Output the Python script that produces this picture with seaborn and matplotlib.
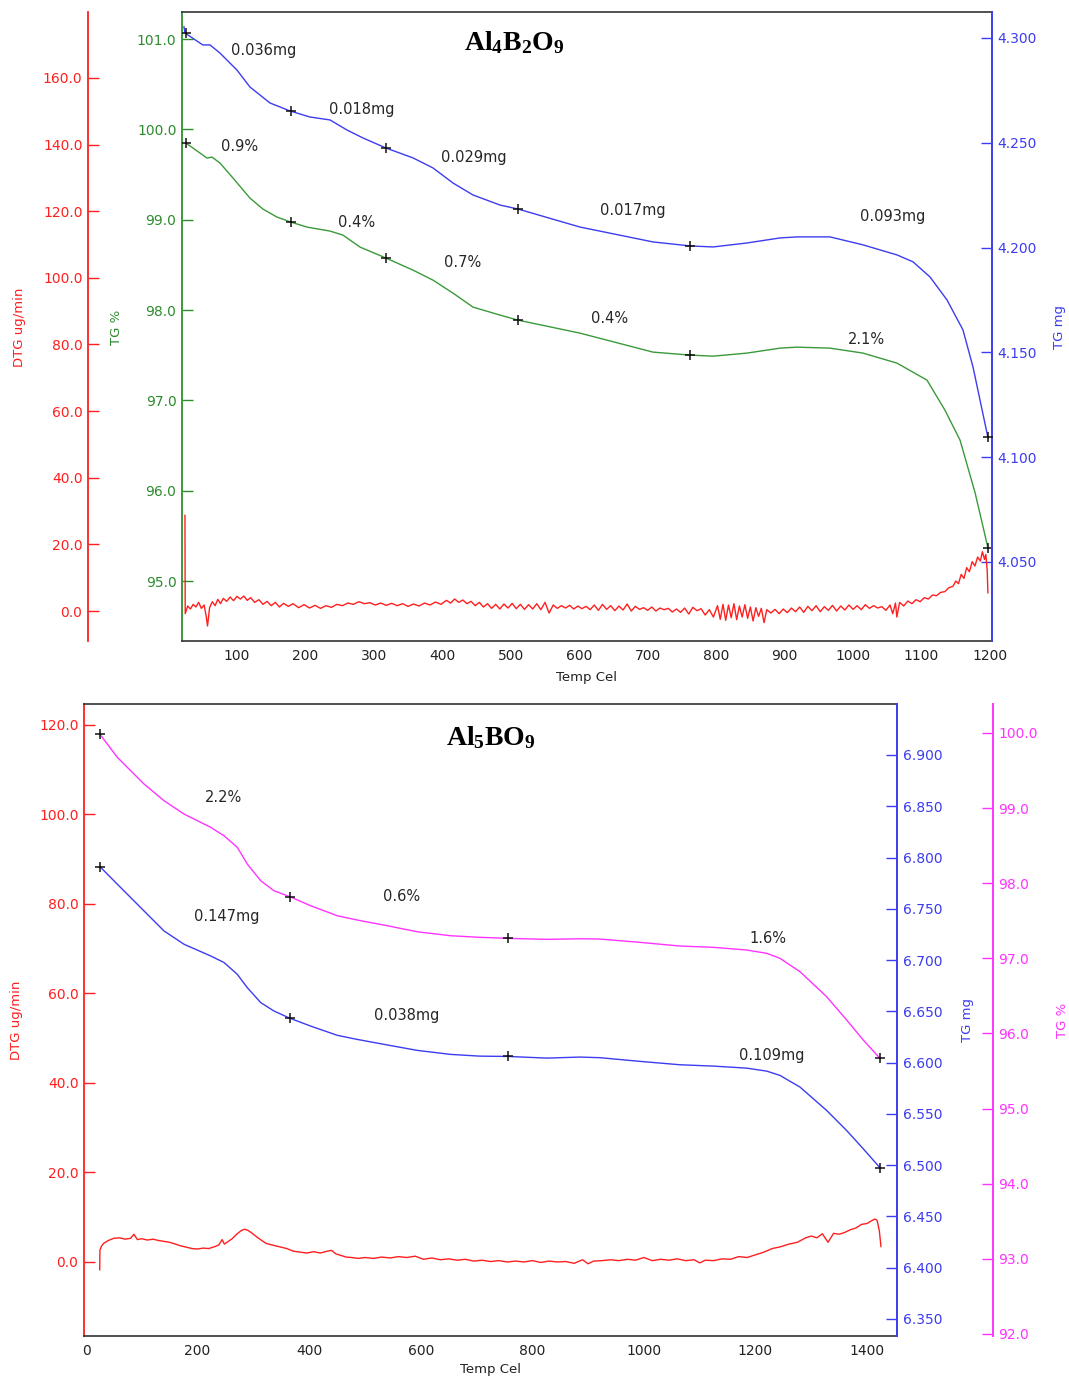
import numpy as np
import matplotlib
matplotlib.use("Agg")
import matplotlib.pyplot as plt
import seaborn as sns
from matplotlib.ticker import FormatStrFormatter, FixedLocator

sns.set_theme(style="white")
plt.rcParams["font.family"] = ["DejaVu Sans"]
plt.rcParams["mathtext.fontset"] = "custom"
plt.rcParams["mathtext.rm"] = "Liberation Serif"
plt.rcParams["mathtext.bf"] = "Liberation Serif:bold"
plt.rcParams["mathtext.it"] = "Liberation Serif:italic"

# ---------------- DATA: Al4B2O9 (top) ----------------
top_pct_temp = [25.5, 45.9, 56.2, 63.5, 75.2, 94.2, 119, 138, 158.4, 178.9, 202.3, 235.9, 254.9,
                279.7, 317.7, 357.1, 386.3, 415.6, 444.8, 484.2, 510.5, 601.1, 707.7, 761.8, 795.4,
                845.1, 893.3, 918.1, 966.3, 1014.5, 1064.2, 1108.0, 1134.3, 1156.3, 1178.2, 1197.2]
top_pct = [99.848, 99.738, 99.682, 99.693, 99.627, 99.461, 99.239, 99.117, 99.029, 98.973, 98.918,
           98.874, 98.829, 98.697, 98.575, 98.442, 98.331, 98.187, 98.032, 97.944, 97.888, 97.744,
           97.534, 97.501, 97.489, 97.523, 97.578, 97.589, 97.578, 97.523, 97.412, 97.224, 96.891,
           96.56, 95.98, 95.363]

top_mg_temp = [22.5, 24.0, 50, 60.6, 75.2, 100, 119, 148.2, 177.4, 206.6, 235.9, 260.7, 284.1, 317.7,
               357.1, 386.3, 415.6, 444.8, 484.2, 510.5, 601.1, 707.7, 761.8, 795.4, 845.1, 893.3,
               918.1, 966.3, 1014.5, 1064.2, 1087.6, 1112.4, 1137.3, 1160.6, 1175.2, 1197.2]
top_mg = [4.3055, 4.3024, 4.2967, 4.2967, 4.2928, 4.2847, 4.2766, 4.2690, 4.2652, 4.2623, 4.2609,
          4.2561, 4.2523, 4.2475, 4.2428, 4.2380, 4.2308, 4.2251, 4.2203, 4.2184, 4.2098, 4.2027,
          4.2008, 4.2003, 4.2022, 4.2046, 4.2051, 4.2051, 4.2013, 4.1965, 4.1932, 4.1860, 4.1750,
          4.1607, 4.1431, 4.1092]

top_dtg_points = [
    (24.0, 28.8), (24.4, -0.8), (28, 1.5), (32, 0.6), (36, 2.0), (40, 1.2), (44, 2.6), (48, 0.8),
    (52, 1.8), (55, -1.5), (57, -4.5), (60, 1.0), (64, 2.8), (68, 1.6), (72, 3.5), (76, 2.2),
    (80, 3.8), (85, 2.9), (90, 4.2), (95, 3.1), (100, 4.4), (105, 3.6), (110, 4.5), (115, 3.2),
    (120, 4.0), (126, 2.6), (132, 3.4), (138, 2.0), (144, 2.9), (150, 1.6), (156, 2.6), (162, 1.2),
    (168, 2.3), (175, 1.4), (182, 2.2), (190, 1.0), (198, 1.9), (206, 0.9), (214, 1.7), (222, 0.8),
    (230, 1.6), (238, 1.1), (246, 2.0), (254, 1.6), (262, 2.4), (270, 2.0), (278, 2.8), (286, 2.2),
    (294, 2.5), (302, 1.8), (310, 2.4), (318, 1.7), (326, 2.3), (334, 1.6), (342, 2.2), (350, 1.4),
    (358, 2.1), (366, 1.5), (374, 2.4), (382, 1.8), (390, 2.7), (398, 2.0), (406, 3.2), (412, 2.4),
    (418, 3.6), (424, 2.6), (430, 3.3), (436, 2.2), (442, 2.9), (448, 1.6), (454, 2.6), (460, 1.2),
    (466, 2.2), (472, 0.8), (478, 2.0), (484, 0.6), (490, 2.1), (496, 0.9), (502, 2.3), (508, 0.7),
    (514, 2.0), (520, 0.5), (526, 1.9), (532, 0.6), (538, 2.2), (544, 0.4), (550, 2.6), (556, -0.6),
    (562, 1.8), (568, 0.8), (574, 1.6), (580, 0.9), (586, 1.7), (592, 0.6), (598, 1.5), (604, 0.7),
    (610, 1.4), (616, 0.4), (622, 1.8), (628, 0.2), (634, 2.0), (640, 0.5), (646, 1.6), (652, 0.1),
    (658, 1.5), (664, 0.3), (670, 2.1), (676, 0.0), (682, 1.4), (688, 0.5), (694, 1.0), (700, 0.2),
    (706, 1.2), (712, 0.0), (718, 0.9), (724, 0.4), (730, 0.8), (736, -0.3), (742, 0.6), (748, -0.4),
    (754, 0.9), (760, -0.9), (766, 1.1), (772, 0.1), (778, 0.7), (784, -1.2), (790, 0.4), (796, -1.8),
    (802, 1.6), (806, -2.5), (810, 2.0), (814, -2.8), (818, 1.8), (822, -2.0), (826, 2.2), (830, -2.6),
    (834, 1.5), (838, -1.8), (842, 1.9), (846, -2.2), (850, 1.2), (854, -3.0), (858, 1.0), (862, -1.6),
    (866, 0.8), (870, -3.5), (874, 0.4), (880, -0.6), (886, 0.5), (892, -0.8), (898, 0.6), (904, -0.5),
    (910, 0.9), (916, -0.2), (922, 1.2), (928, -0.4), (934, 1.4), (940, 0.1), (946, 1.6), (952, -0.2),
    (958, 1.3), (964, 0.2), (970, 1.7), (976, 0.0), (982, 1.5), (988, 0.3), (994, 1.8), (1000, 0.5),
    (1006, 1.6), (1012, 0.4), (1018, 1.9), (1024, 0.8), (1030, 1.6), (1036, 0.9), (1042, 1.3),
    (1048, 0.2), (1054, 1.8), (1058, -0.8), (1062, 2.4), (1064, -1.8), (1068, 2.6), (1074, 1.5),
    (1080, 3.0), (1086, 2.2), (1092, 3.4), (1098, 2.8), (1104, 4.0), (1110, 3.6), (1116, 4.8),
    (1122, 4.6), (1128, 5.6), (1134, 5.8), (1140, 7.0), (1146, 7.4), (1150, 9.0), (1154, 8.2),
    (1158, 11.0), (1162, 9.8), (1166, 13.0), (1170, 11.8), (1174, 14.8), (1178, 13.5), (1182, 16.2),
    (1186, 15.0), (1189, 17.8), (1192, 15.5), (1194, 17.0), (1196, 12.0), (1197, 5.4)]

top_marker_temps = [25, 179, 318, 510, 762, 1197]
top_mg_labels = ["0.036mg", "0.018mg", "0.029mg", "0.017mg", "0.093mg"]
top_mg_label_pos = [(139, 4.2938), (283, 4.2657), (446, 4.2428), (679, 4.2175), (1058, 4.2146)]
top_pct_labels = ["0.9%", "0.4%", "0.7%", "0.4%", "2.1%"]
top_pct_label_pos = [(104, 99.815), (275, 98.973), (429, 98.530), (644, 97.910), (1019, 97.678)]

# ---------------- DATA: Al5BO9 (bottom) ----------------
bot_temp = [24.6, 56.1, 104, 139.8, 175.7, 223.5, 247.4, 271.2, 289.1, 313.2, 337, 365.7, 402.8,
            450.5, 486.3, 534.2, 593.9, 653.8, 706.3, 757, 825.8, 885.5, 921.4, 993.1, 1064.8,
            1124.5, 1184.4, 1220.2, 1244, 1279.9, 1327.7, 1363.6, 1393.3, 1423.3]
bot_pct = [99.987, 99.676, 99.321, 99.099, 98.921, 98.744, 98.632, 98.478, 98.256, 98.033, 97.900,
           97.820, 97.700, 97.567, 97.510, 97.443, 97.354, 97.301, 97.280, 97.266, 97.253, 97.261,
           97.257, 97.213, 97.164, 97.147, 97.111, 97.067, 97.000, 96.822, 96.489, 96.178, 95.912,
           95.668]
bot_mg = [6.7913, 6.7740, 6.7479, 6.7284, 6.7154, 6.7040, 6.6976, 6.6861, 6.6731, 6.6585, 6.6503,
          6.6432, 6.6356, 6.6266, 6.6226, 6.6178, 6.6119, 6.6080, 6.6063, 6.6060, 6.6044, 6.6054,
          6.6048, 6.6012, 6.5979, 6.5966, 6.5946, 6.5917, 6.5875, 6.5761, 6.5533, 6.5337, 6.5159,
          6.4974]

bot_dtg_points = [
    (24.6, -1.8), (24.9, 2.6), (28, 3.6), (32, 4.2), (40, 4.8), (50, 5.3), (60, 5.4), (70, 5.1),
    (80, 5.3), (86, 6.2), (92, 5.0), (100, 5.2), (110, 4.9), (120, 5.1), (130, 4.8), (140, 4.6),
    (150, 4.4), (160, 4.0), (170, 3.6), (180, 3.3), (190, 3.0), (200, 2.9), (210, 3.1), (220, 3.0),
    (230, 3.4), (238, 3.8), (244, 5.0), (248, 4.0), (255, 4.6), (262, 5.2), (270, 6.2), (278, 7.0),
    (284, 7.3), (290, 7.1), (298, 6.4), (306, 5.6), (314, 4.9), (322, 4.2), (330, 3.9), (340, 3.6),
    (350, 3.3), (360, 3.0), (372, 2.4), (384, 2.2), (396, 2.0), (408, 2.3), (420, 2.0), (432, 2.4),
    (440, 2.6), (448, 1.8), (456, 1.5), (466, 1.1), (476, 1.0), (488, 0.8), (500, 1.0), (515, 0.8),
    (530, 1.1), (545, 0.9), (560, 1.2), (575, 1.0), (590, 1.3), (605, 0.6), (620, 0.9), (635, 0.5),
    (650, 0.7), (665, 0.4), (680, 0.6), (695, 0.2), (710, 0.4), (725, 0.1), (740, 0.3), (755, 0.0),
    (770, 0.2), (785, 0.0), (800, 0.3), (815, -0.1), (830, 0.2), (845, 0.0), (860, 0.1), (875, -0.3),
    (890, 0.5), (900, -0.4), (910, 0.2), (925, 0.3), (940, 0.5), (955, 0.3), (970, 0.6), (985, 0.4),
    (1000, 1.0), (1015, 0.3), (1030, 0.6), (1045, 0.4), (1060, 0.7), (1075, 0.3), (1090, 0.5),
    (1100, -0.2), (1110, 0.4), (1125, 0.3), (1140, 0.7), (1155, 0.6), (1170, 1.2), (1185, 1.0),
    (1200, 1.6), (1215, 2.2), (1230, 3.0), (1245, 3.4), (1260, 4.0), (1275, 4.4), (1290, 5.4),
    (1300, 5.8), (1310, 5.4), (1320, 6.3), (1330, 4.4), (1340, 6.4), (1350, 6.2), (1360, 6.6),
    (1370, 7.2), (1380, 7.6), (1390, 8.4), (1400, 8.6), (1408, 9.2), (1414, 9.6), (1418, 9.3),
    (1422, 7.0), (1425, 3.4)]

bot_marker_temps = [25, 366, 757, 1423]
bot_pct_labels = ["2.2%", "0.6%", "1.6%"]
bot_pct_label_pos = [(247, 99.148), (566, 97.830), (1222, 97.270)]
bot_mg_labels = ["0.147mg", "0.038mg", "0.109mg"]
bot_mg_label_pos = [(253, 6.7428), (574, 6.6461), (1230, 6.6070)]

# ---------------- STYLE ----------------
W, H = 1069, 1380
RED = "#ff1f1f"
GREEN = "#3a9a3a"
GREEN_T = "#2e8b2e"
BLUE = "#3c3cf0"
MAG = "#ff33ff"
TXT = "#262626"
LW = 1.0
TICKLEN = 8

fig = plt.figure(figsize=(W / 100, H / 100), dpi=100)
fig.patch.set_facecolor("white")


def style_y(ax, color, side, lim, ticks, fmt):
    ax.set_ylim(*lim)
    ax.yaxis.set_major_locator(FixedLocator(ticks))
    ax.yaxis.set_major_formatter(FormatStrFormatter(fmt))
    if side == "left":
        ax.yaxis.set_ticks_position("left")
    else:
        ax.yaxis.set_ticks_position("right")
    ax.tick_params(axis="y", which="major", direction="in", length=TICKLEN, width=1.0,
                   colors=color, labelsize=10, pad=4)
    ax.set_ylabel("")


def only_spine(ax, name, color, lw=1.3):
    for k, s in ax.spines.items():
        s.set_visible(k == name)
    ax.spines[name].set_color(color)
    ax.spines[name].set_linewidth(lw)


def line(ax, x, y, color):
    sns.lineplot(x=x, y=y, ax=ax, color=color, lw=LW, estimator=None, sort=False, legend=False)


def markers(ax, temps, x, y):
    ax.plot(temps, np.interp(temps, x, y), linestyle="none", marker="+", color="#111111",
            ms=6.5, mew=1.1, zorder=5)


# ================= TOP PANEL =================
ax_g = fig.add_axes([182 / W, 1 - 641 / H, 810 / W, 629 / H])
ax_b = ax_g.twinx()
ax_r = ax_g.twinx()

ax_g.set_xlim(19.7, 1203)
ax_g.xaxis.set_major_locator(FixedLocator(list(range(100, 1300, 100))))
ax_g.tick_params(axis="x", direction="in", length=TICKLEN + 1, width=1.0, colors="black",
                 labelsize=10, pad=6, labelcolor="#222222")
ax_g.set_xlabel("")
for k in ["top", "bottom"]:
    ax_g.spines[k].set_color("#333333")
    ax_g.spines[k].set_linewidth(1.2)
ax_g.spines["left"].set_color(GREEN)
ax_g.spines["left"].set_linewidth(1.4)
ax_g.spines["right"].set_visible(False)

line(ax_g, top_pct_temp, top_pct, GREEN)
markers(ax_g, top_marker_temps, top_pct_temp, top_pct)
style_y(ax_g, GREEN_T, "left", (94.336, 101.299), [95, 96, 97, 98, 99, 100, 101], "%.1f")

line(ax_b, top_mg_temp, top_mg, BLUE)
markers(ax_b, top_marker_temps, top_mg_temp, top_mg)
style_y(ax_b, BLUE, "right", (4.0123, 4.3124), [4.05, 4.10, 4.15, 4.20, 4.25, 4.30], "%.3f")
only_spine(ax_b, "right", BLUE, 1.4)

ax_r.spines["left"].set_position(("axes", (88 - 182) / 810))
only_spine(ax_r, "left", RED, 1.3)
ax_r.yaxis.set_label_position("left")
tdx = [p[0] for p in top_dtg_points]
tdy = [p[1] for p in top_dtg_points]
line(ax_r, tdx, tdy, RED)
style_y(ax_r, RED, "left", (-9.0, 179.8), list(range(0, 180, 20)), "%.1f")

for lab, (tx, ty) in zip(top_mg_labels, top_mg_label_pos):
    ax_b.text(tx, ty, lab, ha="center", va="center", fontsize=10.5, color=TXT)
for lab, (tx, ty) in zip(top_pct_labels, top_pct_label_pos):
    ax_g.text(tx, ty, lab, ha="center", va="center", fontsize=10.5, color=TXT)

ax_g.text(0.41, 0.952, r"$\mathbf{Al_4B_2O_9}$", transform=ax_g.transAxes, ha="center",
          va="center", fontsize=20, color="black")

fig.text(20 / W, 1 - 327 / H, "DTG ug/min", rotation=90, ha="center", va="center",
         fontsize=9.5, color=RED)
fig.text(116 / W, 1 - 327 / H, "TG %", rotation=90, ha="center", va="center",
         fontsize=9.5, color=GREEN_T)
fig.text(1060 / W, 1 - 327 / H, "TG mg", rotation=90, ha="center", va="center",
         fontsize=9.5, color=BLUE)
fig.text(587 / W, 1 - 677 / H, "Temp Cel", ha="center", va="center", fontsize=9.5,
         color="#222222")

# ================= BOTTOM PANEL =================
ax_r2 = fig.add_axes([84 / W, 1 - 1336 / H, 813 / W, 632 / H])
ax_b2 = ax_r2.twinx()
ax_m2 = ax_r2.twinx()

ax_r2.set_xlim(-3.6, 1453.7)
ax_r2.xaxis.set_major_locator(FixedLocator(list(range(0, 1600, 200))))
ax_r2.tick_params(axis="x", direction="in", length=TICKLEN + 1, width=1.0, colors="black",
                  labelsize=10, pad=6, labelcolor="#222222")
for k in ["top", "bottom"]:
    ax_r2.spines[k].set_color("#333333")
    ax_r2.spines[k].set_linewidth(1.2)
ax_r2.spines["left"].set_color(RED)
ax_r2.spines["left"].set_linewidth(1.3)
ax_r2.spines["right"].set_visible(False)

bdx = [p[0] for p in bot_dtg_points]
bdy = [p[1] for p in bot_dtg_points]
line(ax_r2, bdx, bdy, RED)
style_y(ax_r2, RED, "left", (-16.54, 124.69), list(range(0, 140, 20)), "%.1f")
ax_r2.set_xlabel("")

line(ax_b2, bot_temp, bot_mg, BLUE)
markers(ax_b2, bot_marker_temps, bot_temp, bot_mg)
style_y(ax_b2, BLUE, "right", (6.3334, 6.9497),
        [6.35, 6.40, 6.45, 6.50, 6.55, 6.60, 6.65, 6.70, 6.75, 6.80, 6.85, 6.90], "%.3f")
only_spine(ax_b2, "right", BLUE, 1.4)

ax_m2.spines["right"].set_position(("axes", (993 - 84) / 813))
line(ax_m2, bot_temp, bot_pct, MAG)
markers(ax_m2, bot_marker_temps, bot_temp, bot_pct)
style_y(ax_m2, MAG, "right", (91.973, 100.386), [92, 93, 94, 95, 96, 97, 98, 99, 100], "%.1f")
only_spine(ax_m2, "right", MAG, 1.4)

for lab, (tx, ty) in zip(bot_pct_labels, bot_pct_label_pos):
    ax_m2.text(tx, ty, lab, ha="center", va="center", fontsize=10.5, color=TXT)
for lab, (tx, ty) in zip(bot_mg_labels, bot_mg_label_pos):
    ax_b2.text(tx, ty, lab, ha="center", va="center", fontsize=10.5, color=TXT)

ax_r2.text(0.5006, 0.948, r"$\mathbf{Al_5BO_9}$", transform=ax_r2.transAxes, ha="center",
           va="center", fontsize=20, color="black")

fig.text(17 / W, 1 - 1020 / H, "DTG ug/min", rotation=90, ha="center", va="center",
         fontsize=9.5, color=RED)
fig.text(967 / W, 1 - 1020 / H, "TG mg", rotation=90, ha="center", va="center",
         fontsize=9.5, color=BLUE)
fig.text(1062 / W, 1 - 1020 / H, "TG %", rotation=90, ha="center", va="center",
         fontsize=9.5, color=MAG)
fig.text(491 / W, 1 - 1370 / H, "Temp Cel", ha="center", va="center", fontsize=9.5,
         color="#222222")

fig.savefig("out.png", dpi=100, facecolor="white")
